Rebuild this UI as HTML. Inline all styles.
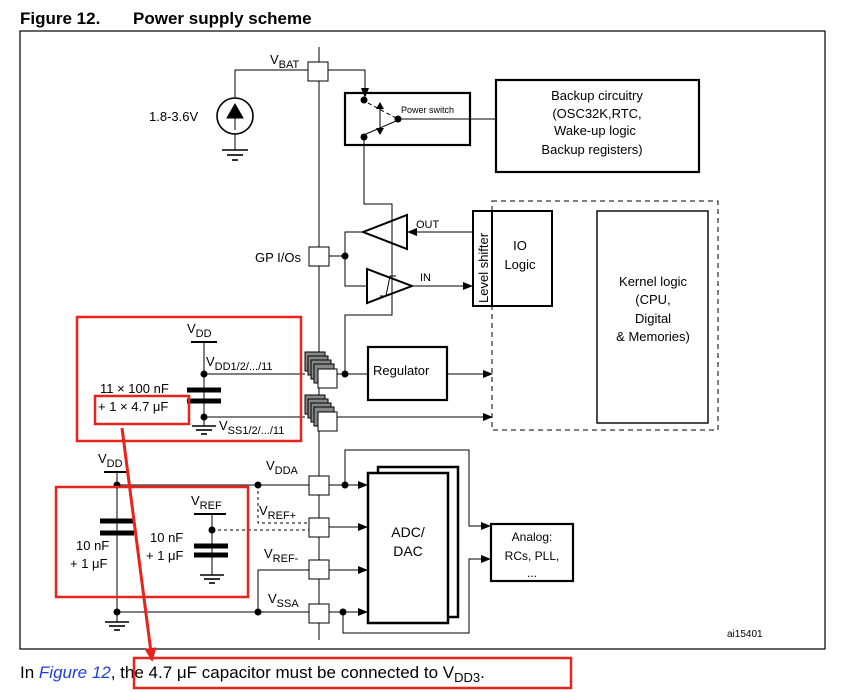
<!DOCTYPE html>
<html><head><meta charset="utf-8"><style>
body{margin:0;background:#fff}
svg{display:block;font-family:"Liberation Sans",Arial,sans-serif}
</style></head><body>
<svg width="865" height="692" viewBox="0 0 865 692" xmlns="http://www.w3.org/2000/svg">
<defs>
<marker id="a" markerWidth="10" markerHeight="8" refX="9" refY="4" orient="auto" markerUnits="userSpaceOnUse"><path d="M0,0 L10,4 L0,8z" fill="#000"/></marker>
<marker id="r" markerWidth="14" markerHeight="12" refX="12" refY="6" orient="auto" markerUnits="userSpaceOnUse"><path d="M0,0 L14,6 L0,12z" fill="#e8231c"/></marker>
</defs>
<text x="20" y="24" font-size="17" font-weight="bold">Figure 12.</text>
<text x="133" y="24" font-size="17" font-weight="bold">Power supply scheme</text>
<rect x="20" y="31" width="805" height="618" fill="none" stroke="#000" stroke-width="1.2"/>
<g stroke="#000" fill="none" stroke-width="1">
<!-- bus -->
<line x1="319" y1="47" x2="319" y2="640"/>
<!-- VBAT -->
<polyline points="235,98 235,70 308,70"/>
<polyline points="328,70 365,70 365,97" marker-end="url(#a)"/>
<circle cx="235" cy="116" r="18" stroke-width="1.6"/>
<line x1="235" y1="134" x2="235" y2="150"/>
<line x1="222" y1="150" x2="248" y2="150" stroke-width="1.6"/>
<line x1="227" y1="155" x2="243" y2="155" stroke-width="1.6"/>
<line x1="232" y1="160" x2="238" y2="160" stroke-width="1.6"/>
<!-- power switch -->
<rect x="345" y="93" width="125" height="52" stroke-width="2.2"/>
<line x1="368" y1="103" x2="396" y2="118" stroke-dasharray="4,3"/>
<line x1="366" y1="134" x2="396" y2="121"/>
<line x1="380" y1="104" x2="380" y2="133"/>
<line x1="398" y1="119" x2="496" y2="119"/>
<rect x="496" y="80" width="203" height="92" stroke-width="2.2"/>
<polyline points="364,137 364,204 392,204 392,315 345,315 345,372"/>
<!-- buffers -->
<polygon points="363,232 407,215 407,249" stroke-width="2"/>
<polygon points="367,269 367,303 412,286" stroke-width="2"/>
<polyline points="380,296 386,296 390,276 396,276" stroke-width="1"/>
<line x1="472" y1="232" x2="408" y2="232" marker-end="url(#a)"/>
<line x1="412" y1="286" x2="472" y2="286" marker-end="url(#a)"/>
<rect x="309" y="247" width="20" height="19" fill="#fff"/>
<polyline points="329,256 345,256"/>
<polyline points="363,232 345,232 345,286 367,286"/>
<rect x="473" y="211" width="19" height="95" stroke-width="2"/>
<rect x="492" y="211" width="60" height="95" stroke-width="2"/>
<rect x="492" y="201" width="226" height="229" stroke-dasharray="5,4"/>
<rect x="597" y="211" width="111" height="212" stroke-width="1.4"/>
<!-- regulator -->
<rect x="368" y="347" width="79" height="53" stroke-width="2.2"/>
<line x1="337" y1="374" x2="368" y2="374"/>
<line x1="447" y1="374" x2="492" y2="374" marker-end="url(#a)"/>
<line x1="336" y1="417" x2="492" y2="417" marker-end="url(#a)"/>
<!-- VDD caps -->
<line x1="191" y1="342" x2="217" y2="342" stroke-width="2"/>
<line x1="204" y1="342" x2="204" y2="426"/>
<line x1="204" y1="374" x2="305" y2="374"/>
<line x1="204" y1="417" x2="305" y2="417"/>
<line x1="187" y1="390" x2="221" y2="390" stroke-width="5"/>
<line x1="187" y1="401" x2="221" y2="401" stroke-width="5"/>
<line x1="192" y1="426" x2="216" y2="426" stroke-width="1.6"/>
<line x1="196" y1="430" x2="212" y2="430" stroke-width="1.6"/>
<line x1="201" y1="434" x2="207" y2="434" stroke-width="1.6"/>
<!-- lower left -->
<line x1="104" y1="472" x2="128" y2="472" stroke-width="2"/>
<line x1="117" y1="472" x2="117" y2="622"/>
<line x1="117" y1="485" x2="309" y2="485"/>
<line x1="100" y1="521" x2="134" y2="521" stroke-width="5"/>
<line x1="100" y1="533" x2="134" y2="533" stroke-width="5"/>
<line x1="105" y1="622" x2="129" y2="622" stroke-width="1.6"/>
<line x1="109" y1="626" x2="125" y2="626" stroke-width="1.6"/>
<line x1="114" y1="630" x2="120" y2="630" stroke-width="1.6"/>
<line x1="117" y1="612" x2="309" y2="612"/>
<polyline points="258,485 258,523 309,523" stroke-dasharray="3,3"/>
<line x1="212" y1="530" x2="309" y2="530" stroke-dasharray="3,3"/>
<line x1="194" y1="514" x2="226" y2="514" stroke-width="2"/>
<line x1="212" y1="514" x2="212" y2="575"/>
<line x1="194" y1="546" x2="228" y2="546" stroke-width="5"/>
<line x1="194" y1="555" x2="228" y2="555" stroke-width="5"/>
<line x1="200" y1="575" x2="224" y2="575" stroke-width="1.6"/>
<line x1="204" y1="579" x2="220" y2="579" stroke-width="1.6"/>
<line x1="209" y1="583" x2="215" y2="583" stroke-width="1.6"/>
<polyline points="258,612 258,570 309,570"/>
<!-- ADC -->
<rect x="378" y="467" width="80" height="150" stroke-width="2.5"/>
<rect x="368" y="473" width="80" height="150" stroke-width="2.5" fill="#fff"/>
<line x1="329" y1="485" x2="367" y2="485" marker-end="url(#a)"/>
<line x1="329" y1="527" x2="367" y2="527" marker-end="url(#a)"/>
<line x1="329" y1="570" x2="367" y2="570" marker-end="url(#a)"/>
<line x1="329" y1="612" x2="367" y2="612" marker-end="url(#a)"/>
<polyline points="345,485 345,450 469,450 469,526 490,526" marker-end="url(#a)"/>
<polyline points="343,612 343,633 469,633 469,559 490,559" marker-end="url(#a)"/>
<rect x="491" y="524" width="82" height="57" stroke-width="2.2"/>
</g>
<!-- pads -->
<g stroke="#000" fill="#fff" stroke-width="1">
<rect x="308" y="62" width="20" height="19"/>
<rect x="309" y="476" width="20" height="19"/>
<rect x="309" y="518" width="20" height="19"/>
<rect x="309" y="560" width="20" height="19"/>
<rect x="309" y="604" width="20" height="19"/>
<g fill="#888"><rect x="305" y="352" width="20" height="19"/><rect x="308" y="356" width="20" height="19"/><rect x="311" y="360" width="20" height="19"/><rect x="314" y="364" width="20" height="19"/></g>
<rect x="318" y="369" width="19" height="19"/>
<g fill="#888"><rect x="305" y="395" width="20" height="19"/><rect x="308" y="399" width="20" height="19"/><rect x="311" y="403" width="20" height="19"/><rect x="314" y="407" width="20" height="19"/></g>
<rect x="318" y="412" width="19" height="19"/>
</g>
<path d="M235,104 L227,118 L243,118z M235,118 v12" fill="#000" stroke="#000"/>
<path d="M380,102 l-4,7 h8z M380,135 l-4,-7 h8z" fill="#000"/>
<g fill="#000">
<circle cx="364" cy="100" r="3.5"/><circle cx="364" cy="137" r="3.5"/><circle cx="398" cy="119" r="3.5"/>
<circle cx="345" cy="256" r="3.5"/><circle cx="345" cy="374" r="3.5"/>
<circle cx="204" cy="374" r="3.5"/><circle cx="204" cy="417" r="3.5"/>
<circle cx="117" cy="485" r="3.5"/><circle cx="258" cy="485" r="3.5"/><circle cx="212" cy="530" r="3.5"/>
<circle cx="117" cy="612" r="3.5"/><circle cx="258" cy="612" r="3.5"/>
<circle cx="345" cy="485" r="3.5"/><circle cx="343" cy="612" r="3.5"/>
</g>
<g font-size="13" fill="#000">
<text x="270" y="64">V<tspan font-size="11" dy="4">BAT</tspan></text>
<text x="149" y="121">1.8-3.6V</text>
<text x="401" y="113" font-size="9">Power switch</text>
<text x="597" y="100" text-anchor="middle">Backup circuitry</text>
<text x="597" y="118" text-anchor="middle">(OSC32K,RTC,</text>
<text x="595" y="135" text-anchor="middle">Wake-up logic</text>
<text x="592" y="154" text-anchor="middle">Backup registers)</text>
<text x="416" y="228" font-size="11">OUT</text>
<text x="420" y="281" font-size="11">IN</text>
<text x="255" y="262">GP I/Os</text>
<text transform="translate(488,303) rotate(-90)" font-size="13">Level shifter</text>
<text x="520" y="250" text-anchor="middle">IO</text>
<text x="520" y="269" text-anchor="middle">Logic</text>
<text x="653" y="286" text-anchor="middle">Kernel logic</text>
<text x="653" y="304" text-anchor="middle">(CPU,</text>
<text x="653" y="323" text-anchor="middle">Digital</text>
<text x="653" y="341" text-anchor="middle">&amp; Memories)</text>
<text x="373" y="375">Regulator</text>
<text x="187" y="333">V<tspan font-size="11" dy="4">DD</tspan></text>
<text x="206" y="366">V<tspan font-size="11" dy="4">DD1/2/.../11</tspan></text>
<text x="219" y="430">V<tspan font-size="11" dy="4">SS1/2/.../11</tspan></text>
<text x="100" y="393">11 × 100 nF</text>
<text x="98" y="411">+ 1 × 4.7 μF</text>
<text x="98" y="463">V<tspan font-size="11" dy="4">DD</tspan></text>
<text x="191" y="505">V<tspan font-size="11" dy="4">REF</tspan></text>
<text x="76" y="550">10 nF</text>
<text x="70" y="568">+ 1 μF</text>
<text x="150" y="542">10 nF</text>
<text x="146" y="560">+ 1 μF</text>
<text x="266" y="470">V<tspan font-size="11" dy="4">DDA</tspan></text>
<text x="259" y="515">V<tspan font-size="11" dy="4">REF+</tspan></text>
<text x="264" y="558">V<tspan font-size="11" dy="4">REF-</tspan></text>
<text x="268" y="603">V<tspan font-size="11" dy="4">SSA</tspan></text>
<text x="408" y="537" text-anchor="middle" font-size="14">ADC/</text>
<text x="408" y="556" text-anchor="middle" font-size="14">DAC</text>
<text x="532" y="541" text-anchor="middle" font-size="12">Analog:</text>
<text x="532" y="560" text-anchor="middle" font-size="12">RCs, PLL,</text>
<text x="532" y="577" text-anchor="middle" font-size="12">...</text>
<text x="727" y="637" font-size="10">ai15401</text>
</g>
<text x="20" y="678" font-size="17">In <tspan fill="#1f3fd6" font-style="italic">Figure 12</tspan>, the 4.7 μF capacitor must be connected to V<tspan font-size="13" dy="4">DD3</tspan><tspan dy="-4">.</tspan></text>
<g stroke="#e8231c" fill="none" stroke-width="2.5">
<rect x="77" y="317" width="224" height="124"/>
<rect x="95" y="396" width="94" height="28"/>
<rect x="56" y="487" width="192" height="110"/>
<rect x="134" y="658" width="437" height="30"/>
<line x1="122" y1="428" x2="152" y2="660" stroke-width="3" marker-end="url(#r)"/>
</g>
</svg>
</body></html>
